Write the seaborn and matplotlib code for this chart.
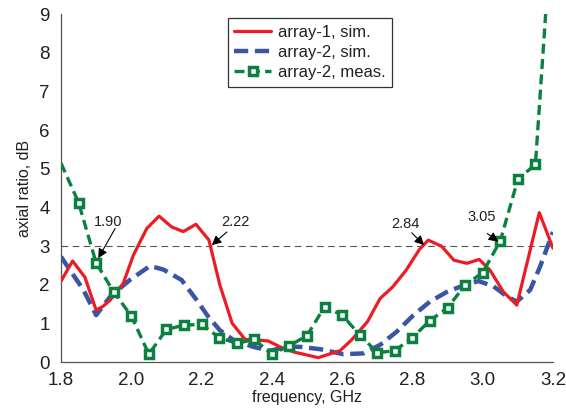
import matplotlib
matplotlib.use("Agg")
import matplotlib.pyplot as plt
import seaborn as sns
import pandas as pd
from matplotlib.lines import Line2D

# array-1, simulated (solid red)
f_a1 = [1.80, 1.833, 1.868, 1.90, 1.92, 1.94, 1.977, 2.006, 2.044, 2.079, 2.115, 2.148,
        2.184, 2.221, 2.252, 2.287, 2.324, 2.357, 2.39, 2.423, 2.461, 2.532, 2.594, 2.627,
        2.672, 2.708, 2.744, 2.782, 2.82, 2.845, 2.883, 2.918, 2.955, 2.99, 3.021, 3.059,
        3.097, 3.161, 3.20]
ar_a1 = [2.10, 2.62, 2.20, 1.35, 1.45, 1.61, 2.04, 2.77, 3.46, 3.78, 3.50, 3.38,
         3.57, 3.16, 2.00, 1.01, 0.59, 0.58, 0.55, 0.40, 0.27, 0.12, 0.30, 0.58,
         1.05, 1.65, 1.95, 2.38, 2.92, 3.16, 3.00, 2.64, 2.56, 2.66, 2.38, 1.82,
         1.48, 3.87, 2.95]

# array-2, simulated (dashed blue)
f_a2 = [1.80, 1.864, 1.90, 1.94, 1.996, 2.053, 2.091, 2.143, 2.186, 2.219, 2.252, 2.29,
        2.347, 2.395, 2.442, 2.48, 2.537, 2.603, 2.66, 2.708, 2.755, 2.803, 2.85, 2.898,
        2.94, 2.988, 3.03, 3.068, 3.097, 3.135, 3.163, 3.20]
ar_a2 = [2.73, 1.87, 1.22, 1.70, 2.13, 2.49, 2.40, 2.13, 1.61, 1.18, 0.83, 0.58,
         0.40, 0.30, 0.40, 0.40, 0.34, 0.21, 0.23, 0.45, 0.79, 1.22, 1.57, 1.82,
         1.97, 2.10, 1.97, 1.71, 1.57, 1.87, 2.47, 3.37]

# array-2, measured (green dashed with squares)
f_meas = [1.80, 1.85, 1.90, 1.95, 2.00, 2.05, 2.10, 2.15, 2.20, 2.25, 2.30, 2.35, 2.40,
          2.45, 2.50, 2.55, 2.60, 2.65, 2.70, 2.75, 2.80, 2.85, 2.90, 2.95, 3.00, 3.05,
          3.10, 3.15, 3.20]
ar_meas = [5.15, 4.13, 2.57, 1.82, 1.20, 0.21, 0.85, 0.96, 0.98, 0.64, 0.49, 0.59, 0.21,
           0.43, 0.69, 1.44, 1.22, 0.71, 0.25, 0.30, 0.64, 1.08, 1.41, 2.00, 2.32, 3.14,
           4.73, 5.12, 11.8]

labels = ["array-1, sim.", "array-2, sim.", "array-2, meas."]
ann_text = ["1.90", "2.22", "2.84", "3.05"]
ann_text_pos = [(1.935, 3.63), (2.295, 3.63), (2.779, 3.57), (2.997, 3.75)]
ann_tail = [(1.954, 3.46), (2.272, 3.37), (2.798, 3.35), (3.013, 3.33)]
ann_tip = [(1.906, 2.69), (2.229, 3.03), (2.833, 3.03), (3.044, 3.12)]

red = "#ED1C24"
blue = "#3A55A5"
green = "#0B8040"
txt = "#231F20"

sns.set_style("white")
plt.rcParams['font.family'] = ['Liberation Sans', 'DejaVu Sans']

fig = plt.figure(figsize=(5.66, 4.19), dpi=100)
ax = fig.add_axes([61/566, 1 - 362.3/419, (553 - 61)/566, (362.3 - 14.3)/419])

df1 = pd.DataFrame({"f": f_a1, "ar": ar_a1})
df2 = pd.DataFrame({"f": f_a2, "ar": ar_a2})
df3 = pd.DataFrame({"f": f_meas, "ar": ar_meas})

ax.axhline(3, color="#555555", lw=0.8, dashes=(6, 4), zorder=1)

sns.lineplot(data=df1, x="f", y="ar", ax=ax, color=red, lw=2.3, estimator=None, sort=False, zorder=3)
sns.lineplot(data=df2, x="f", y="ar", ax=ax, color=blue, lw=3.2, estimator=None, sort=False, zorder=2)
ax.lines[-1].set_dashes((3.2, 1.5))
sns.lineplot(data=df3, x="f", y="ar", ax=ax, color=green, lw=2.4, estimator=None, sort=False,
             marker="s", markersize=5.6, markerfacecolor="white", markeredgecolor=green,
             markeredgewidth=2.5, markevery=list(range(1, len(f_meas) - 1)), zorder=4)
ax.lines[-1].set_dashes((3.0, 1.6))

for t, tp, tl, tip in zip(ann_text, ann_text_pos, ann_tail, ann_tip):
    ax.text(tp[0], tp[1], t, ha="center", va="center", fontsize=10.5, color=txt, zorder=6)
    ax.annotate("", xy=tip, xytext=tl,
                arrowprops=dict(arrowstyle="-|>", color="black", lw=0.8, mutation_scale=14,
                                shrinkA=0, shrinkB=0), zorder=6)

ax.set_xlim(1.8, 3.2)
ax.set_ylim(0, 9)
ax.set_xticks([1.8, 2.0, 2.2, 2.4, 2.6, 2.8, 3.0, 3.2])
ax.set_xticklabels(["1.8", "2.0", "2.2", "2.4", "2.6", "2.8", "3.0", "3.2"])
ax.set_yticks(range(0, 10))
ax.tick_params(axis="both", labelsize=13.5, colors=txt, length=4, width=0.8)
ax.tick_params(axis="x", direction="inout", pad=5, color="#555555")
ax.tick_params(axis="y", direction="out", pad=4, color="#555555")
for s in ["top", "right"]:
    ax.spines[s].set_visible(False)
for s in ["left", "bottom"]:
    ax.spines[s].set_color("#555555")
    ax.spines[s].set_linewidth(0.9)

ax.set_xlabel("frequency, GHz", fontsize=11.5, color=txt, labelpad=1)
ax.set_ylabel("axial ratio, dB", fontsize=11.5, color=txt, labelpad=5)

handles = [
    Line2D([], [], color=red, lw=2.3),
    Line2D([], [], color=blue, lw=3.2, dashes=(3.2, 1.5)),
    Line2D([], [], color=green, lw=2.4, dashes=(3.0, 1.6), marker="s", markersize=5.6,
           markerfacecolor="white", markeredgecolor=green, markeredgewidth=2.5),
]
leg = ax.legend(handles, labels, loc="upper left", bbox_to_anchor=(0.339, 0.988),
                fontsize=12, frameon=True, fancybox=False, edgecolor="black",
                handlelength=2.2, borderpad=0.4, labelspacing=0.3, handletextpad=0.4,
                borderaxespad=0)
leg.get_frame().set_linewidth(0.9)
for t in leg.get_texts():
    t.set_color(txt)

fig.savefig("out.png", dpi=100)
